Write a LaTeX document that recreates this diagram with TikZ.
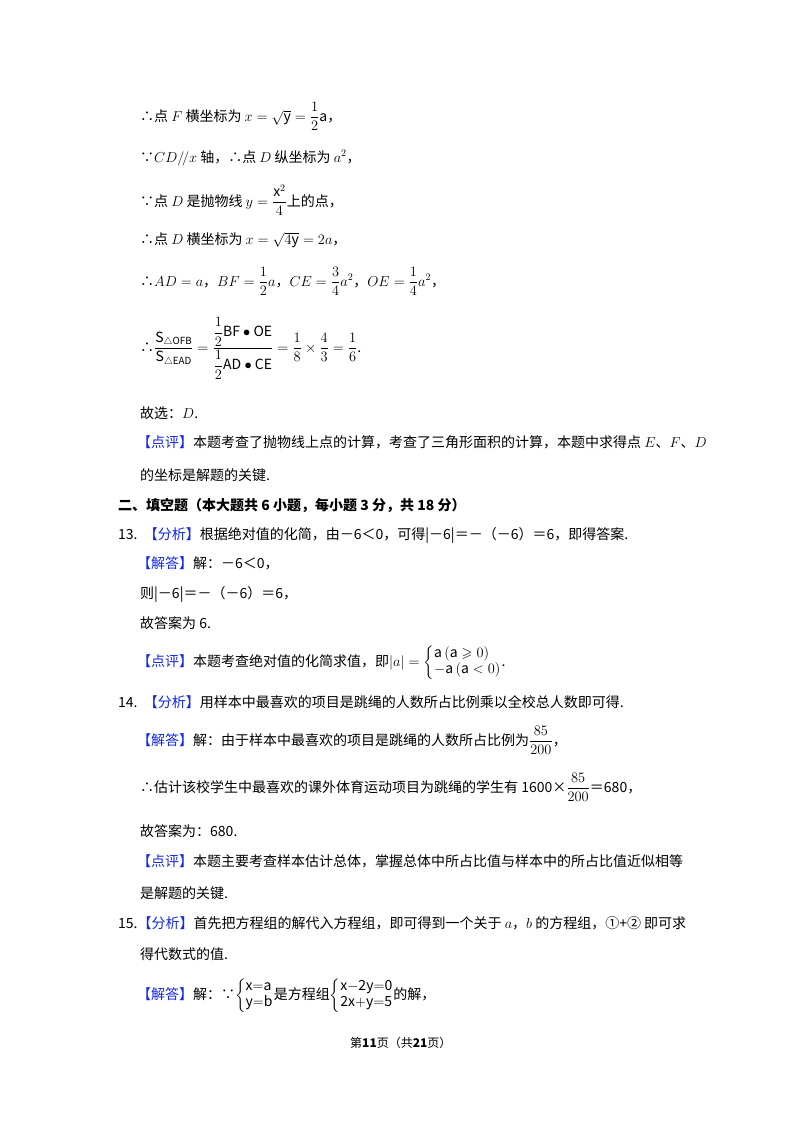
\documentclass[tikz,border=0pt]{standalone}
\usepackage{amsmath,amssymb}
\usepackage{fontspec}
\setmainfont{Noto Sans CJK SC}
\definecolor{hl}{RGB}{20,40,230}
\newcommand{\tg}[1]{\textcolor{hl}{【#1】}}
\newcommand{\bcases}[1]{\left\{\begin{array}{@{}l@{}}#1\end{array}\right.}
\begin{document}
\begin{tikzpicture}[x=1pt,y=-1pt,
  ln/.style={anchor=base west,inner sep=0pt,font=\fontsize{14}{16}\selectfont}]
\useasboundingbox (0,0) rectangle (800,1132);
\fill[white] (0,0) rectangle (800,1132);
\node[ln] (l1) at (140,121) {∴点 $F$ 横坐标为 $x=\sqrt{\mathrm{y}}=\dfrac{1}{2}\mathrm{a}$，};
\node[ln] (l2) at (140,162) {∵$CD/\!/x$ 轴，∴点 $D$ 纵坐标为 $a^2$，};
\node[ln] (l3) at (140,206) {∵点 $D$ 是抛物线 $y=\dfrac{\mathrm{x}^2}{4}$上的点，};
\node[ln] (l4) at (140,244) {∴点 $D$ 横坐标为 $x=\sqrt{4\mathrm{y}}=2a$，};
\node[ln] (l5) at (140,286) {∴$AD=a$，$BF=\dfrac{1}{2}a$，$CE=\dfrac{3}{4}a^2$，$OE=\dfrac{1}{4}a^2$，};
\node[ln] (l6) at (140,352) {∴$\dfrac{\mathrm{S}_{\triangle\mathrm{OFB}}}{\mathrm{S}_{\triangle\mathrm{EAD}}}=\dfrac{\dfrac{1}{2}\mathrm{BF}\bullet\mathrm{OE}}{\dfrac{1}{2}\mathrm{AD}\bullet\mathrm{CE}}=\dfrac{1}{8}\times\dfrac{4}{3}=\dfrac{1}{6}$.};
\node[ln] (l7) at (140,418) {故选：$D$.};
\node[ln] (l8) at (137,447) {\tg{点评}本题考查了抛物线上点的计算，考查了三角形面积的计算，本题中求得点 $E$、$F$、$D$};
\node[ln] (l9) at (140,480) {的坐标是解题的关键.};
\node[ln] (l10) at (118,510) {\bfseries 二、填空题（本大题共 6 小题，每小题 3 分，共 18 分）};
\node[ln] (l11) at (118,539) {13.\ \ \tg{分析}根据绝对值的化简，由－6＜0，可得|－6|＝－（－6）＝6，即得答案.};
\node[ln] (l12) at (137,568) {\tg{解答}解：－6＜0，};
\node[ln] (l13) at (140,598) {则|－6|＝－（－6）＝6，};
\node[ln] (l14) at (140,628) {故答案为 6.};
\node[ln] (l15) at (137,666) {\tg{点评}本题考查绝对值的化简求值，即$|a|=\bcases{\mathrm{a}\,(\mathrm{a}\geqslant0)\\-\mathrm{a}\,(\mathrm{a}<0)}$.};
\node[ln] (l16) at (118,707) {14.\ \ \tg{分析}用样本中最喜欢的项目是跳绳的人数所占比例乘以全校总人数即可得.};
\node[ln] (l17) at (137,745) {\tg{解答}解：由于样本中最喜欢的项目是跳绳的人数所占比例为$\dfrac{85}{200}$，};
\node[ln] (l18) at (140,792) {∴估计该校学生中最喜欢的课外体育运动项目为跳绳的学生有 1600×$\dfrac{85}{200}$＝680，};
\node[ln] (l19) at (140,836) {故答案为：680.};
\node[ln] (l20) at (137,866) {\tg{点评}本题主要考查样本估计总体，掌握总体中所占比值与样本中的所占比值近似相等};
\node[ln] (l21) at (140,898) {是解题的关键.};
\node[ln] (l22) at (118,928) {15.\tg{分析}首先把方程组的解代入方程组，即可得到一个关于 $a$，$b$ 的方程组，①+② 即可求};
\node[ln] (l23) at (140,959) {得代数式的值.};
\node[ln] (l24) at (137,999) {\tg{解答}解：∵$\bcases{\mathrm{x{=}a}\\\mathrm{y{=}b}}$是方程组$\bcases{\mathrm{x{-}2y{=}0}\\\mathrm{2x{+}y{=}5}}$的解，};
\node[ln,font=\fontsize{12}{14}\selectfont] (ft) at (350,1047) {第\textbf{11}页（共\textbf{21}页）};
\end{tikzpicture}
\end{document}
